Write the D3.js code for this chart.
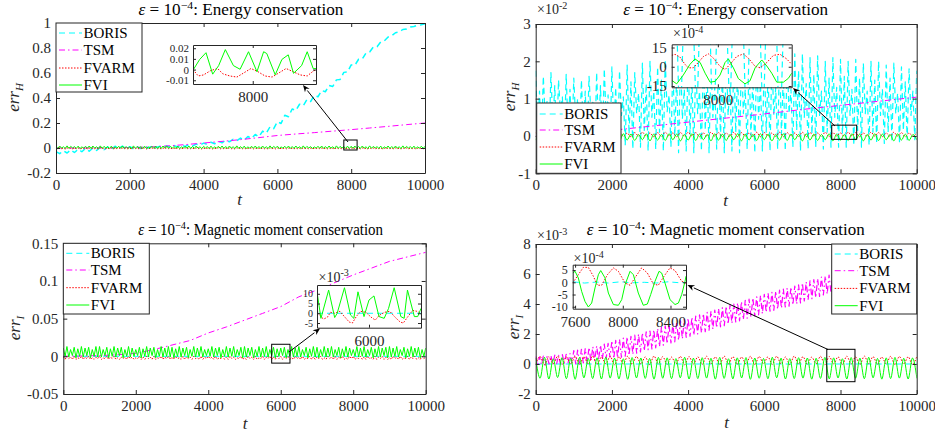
<!DOCTYPE html>
<html><head><meta charset="utf-8">
<script src="https://cdn.jsdelivr.net/npm/d3@7"></script>
<style>
html,body{margin:0;padding:0;background:#fff;}
svg{display:block;}
</style></head><body>
<svg id="chart" width="935" height="433"></svg>
<script>
// ================= DATA =================
const seriesNames = ["BORIS", "TSM", "FVARM", "FVI"];
const xTicks = [0, 2000, 4000, 6000, 8000, 10000];
const step100 = 100;            // sample spacing (t) of 101-value series
const step50 = 50;              // sample spacing (t) of 201-value series
const p4Step = 115;             // sample spacing of panel-4 FVI / FVARM

// ---- Panel 1: energy (left), raw units ----
const p1YTicks = [-0.2, 0, 0.2, 0.4, 0.6, 0.8, 1];
const p1Boris = [
 -0.030,-0.045,-0.022,-0.040,-0.015,-0.036,-0.010,-0.030,-0.004,-0.026,
  0.000,-0.020, 0.006,-0.014, 0.009,-0.010, 0.014,-0.004, 0.016,-0.008,
  0.010,-0.006, 0.008,-0.004, 0.013, 0.000, 0.015, 0.002, 0.013, 0.004,
  0.016, 0.006, 0.019, 0.008, 0.023, 0.012, 0.027, 0.016, 0.031, 0.022,
  0.039, 0.028, 0.046, 0.034, 0.053, 0.042, 0.061, 0.050, 0.069, 0.058,
  0.079, 0.062, 0.092, 0.076, 0.108, 0.090, 0.135, 0.118, 0.170, 0.155,
  0.210, 0.196, 0.262, 0.250, 0.312, 0.300, 0.350, 0.338, 0.388, 0.372,
  0.420, 0.410, 0.460, 0.450, 0.500, 0.492, 0.545, 0.548, 0.605, 0.608,
  0.665, 0.662, 0.710, 0.712, 0.760, 0.768, 0.808, 0.810, 0.848, 0.858,
  0.888, 0.898, 0.922, 0.928, 0.948, 0.952, 0.968, 0.972, 0.982, 0.986,
  0.995];
const p1TsmT = [0,500,1000,1500,2000,2500,3000,3500,4000,4500,5000,5500,6000,6500,7000,7500,8000,8500,9000,9500,10000];
const p1Tsm = [0,0,0.001,0.002,0.004,0.008,0.016,0.027,0.040,0.053,0.067,0.083,0.100,0.112,0.123,0.135,0.147,0.160,0.173,0.187,0.200];
const p1Fvarm = [
 -0.001,-0.007,0.001,-0.006,-0.002,-0.008,0.002,-0.005,0.000,-0.007,-0.001,-0.006,0.001,-0.008,-0.002,-0.005,0.002,-0.007,0.000,-0.006,
 0.001,-0.006,-0.002,-0.008,0.002,-0.005,0.000,-0.007,-0.001,-0.006,0.001,-0.008,-0.002,-0.005,0.002,-0.007,0.000,-0.006,-0.001,-0.007,
 -0.002,-0.008,0.002,-0.005,0.000,-0.007,-0.001,-0.006,0.001,-0.008,-0.002,-0.005,0.002,-0.007,0.000,-0.006,-0.001,-0.007,0.001,-0.006,
 0.002,-0.005,0.000,-0.007,-0.001,-0.006,0.001,-0.008,-0.002,-0.005,0.002,-0.007,0.000,-0.006,-0.001,-0.007,0.001,-0.006,-0.002,-0.008,
 0.000,-0.007,-0.001,-0.006,0.001,-0.008,-0.002,-0.005,0.002,-0.007,0.000,-0.006,-0.001,-0.007,0.001,-0.006,-0.002,-0.008,0.002,-0.005,
 -0.001,-0.006,0.001,-0.008,-0.002,-0.005,0.002,-0.007,0.000,-0.006,-0.001,-0.007,0.001,-0.006,-0.002,-0.008,0.002,-0.005,0.000,-0.007,
 0.001,-0.008,-0.002,-0.005,0.002,-0.007,0.000,-0.006,-0.001,-0.007,0.001,-0.006,-0.002,-0.008,0.002,-0.005,0.000,-0.007,-0.001,-0.006,
 -0.002,-0.005,0.002,-0.007,0.000,-0.006,-0.001,-0.007,0.001,-0.006,-0.002,-0.008,0.002,-0.005,0.000,-0.007,-0.001,-0.006,0.001,-0.008,
 0.002,-0.007,0.000,-0.006,-0.001,-0.007,0.001,-0.006,-0.002,-0.008,0.002,-0.005,0.000,-0.007,-0.001,-0.006,0.001,-0.008,-0.002,-0.005,
 0.000,-0.006,-0.001,-0.007,0.001,-0.006,-0.002,-0.008,0.002,-0.005,0.000,-0.007,-0.001,-0.006,0.001,-0.008,-0.002,-0.005,0.002,-0.007,
 -0.001];
const p1Fvi = [
 0.012,-0.003,0.016,-0.001,0.010,-0.004,0.017,-0.002,0.013,0.000,0.011,-0.003,0.015,-0.004,0.009,-0.001,0.014,-0.002,0.016,-0.003,
 0.016,-0.001,0.010,-0.004,0.017,-0.002,0.013,0.000,0.011,-0.003,0.015,-0.004,0.009,-0.001,0.014,-0.002,0.016,-0.003,0.012,-0.003,
 0.010,-0.004,0.017,-0.002,0.013,0.000,0.011,-0.003,0.015,-0.004,0.009,-0.001,0.014,-0.002,0.016,-0.003,0.012,-0.003,0.016,-0.001,
 0.017,-0.002,0.013,0.000,0.011,-0.003,0.015,-0.004,0.009,-0.001,0.014,-0.002,0.016,-0.003,0.012,-0.003,0.016,-0.001,0.010,-0.004,
 0.013,0.000,0.011,-0.003,0.015,-0.004,0.009,-0.001,0.014,-0.002,0.016,-0.003,0.012,-0.003,0.016,-0.001,0.010,-0.004,0.017,-0.002,
 0.011,-0.003,0.015,-0.004,0.009,-0.001,0.014,-0.002,0.016,-0.003,0.012,-0.003,0.016,-0.001,0.010,-0.004,0.017,-0.002,0.013,0.000,
 0.015,-0.004,0.009,-0.001,0.014,-0.002,0.016,-0.003,0.012,-0.003,0.016,-0.001,0.010,-0.004,0.017,-0.002,0.013,0.000,0.011,-0.003,
 0.009,-0.001,0.014,-0.002,0.016,-0.003,0.012,-0.003,0.016,-0.001,0.010,-0.004,0.017,-0.002,0.013,0.000,0.011,-0.003,0.015,-0.004,
 0.014,-0.002,0.016,-0.003,0.012,-0.003,0.016,-0.001,0.010,-0.004,0.017,-0.002,0.013,0.000,0.011,-0.003,0.015,-0.004,0.009,-0.001,
 0.016,-0.003,0.012,-0.003,0.016,-0.001,0.010,-0.004,0.017,-0.002,0.013,0.000,0.011,-0.003,0.015,-0.004,0.009,-0.001,0.014,-0.002,
 0.012];
// inset 1 (t in [7830,8180])
const i1XTicks = [8000];
const i1YTicks = [-0.01, 0, 0.01, 0.02];
const i1FviT = [7830,7849,7867,7886,7903,7922,7945,7964,7988,8012,8031,8040,8064,8083,8101,8116,8139,8155,8172,8180];
const i1Fvi  = [-0.0006,0.0095,0.0158,-0.0043,0.0037,0.0187,0.0037,0.0003,0.0167,-0.0020,0.0167,0.0150,-0.0049,0.0095,0.0138,-0.0035,0.0037,0.0167,0.0009,0.0009];
const i1FvarmT = [7830,7845,7860,7880,7900,7915,7935,7955,7975,7995,8015,8035,8055,8075,8095,8115,8135,8155,8170,8180];
const i1Fvarm  = [0.000,-0.006,-0.005,-0.001,0.001,-0.004,-0.006,-0.007,-0.003,0.001,-0.002,-0.006,-0.007,-0.003,0.001,-0.002,-0.005,-0.006,-0.002,0.000];
const p1Zoom = {t: [7800, 8160], v: [-0.016, 0.064]};

// ---- Panel 2: energy (right), units of 1e-2 ----
const p2YTicks = [-1, 0, 1, 2, 3];
const p2Boris = [
 1.75,0.10,1.20,-0.15,1.60,0.50,0.95,-0.20,1.70,0.25,1.35,-0.10,1.50,0.60,1.05,-0.20,1.65,0.15,1.25,-0.05,
 1.55,0.40,1.00,-0.25,1.50,0.20,1.20,-0.15,1.60,0.55,0.90,-0.25,1.70,0.10,1.35,-0.20,1.80,0.45,1.10,-0.30,
 1.85,0.20,1.30,-0.35,1.75,0.55,1.05,-0.25,1.90,0.05,1.45,-0.35,1.70,0.60,1.15,-0.30,1.95,0.15,1.40,-0.40,
 2.00,0.50,1.20,-0.35,1.85,0.10,1.50,-0.40,2.05,0.65,1.10,-0.30,1.95,0.00,1.60,-0.45,2.10,0.45,1.25,-0.40,
 2.15,0.05,1.55,-0.45,1.95,0.60,1.20,-0.40,2.15,0.15,1.70,-0.45,2.00,0.50,1.30,-0.35,2.20,-0.05,1.65,-0.45,
 2.20,0.55,1.35,-0.40,2.10,0.10,1.75,-0.45,2.20,0.60,1.25,-0.35,2.05,0.00,1.60,-0.45,2.20,0.45,1.40,-0.40,
 2.20,0.10,1.70,-0.40,2.05,0.55,1.30,-0.35,2.20,0.05,1.65,-0.40,2.10,0.60,1.25,-0.30,2.20,0.15,1.75,-0.40,
 2.20,0.50,1.40,-0.35,2.10,0.05,1.65,-0.30,2.15,0.55,1.20,-0.35,2.00,0.10,1.55,-0.30,2.10,0.50,1.30,-0.30,
 2.05,0.05,1.60,-0.30,2.00,0.55,1.25,-0.25,2.05,0.15,1.55,-0.30,1.95,0.60,1.20,-0.25,2.00,0.10,1.50,-0.20,
 2.00,0.55,1.25,-0.20,1.90,0.10,1.55,-0.15,1.95,0.60,1.15,-0.20,1.85,0.15,1.45,-0.10,1.80,0.55,1.20,-0.10,
 1.75];
const p2TsmT = [0,1000,2000,3000,4000,5000,6000,7000,8000,9000,10000];
const p2Tsm = [0.00,0.07,0.15,0.26,0.37,0.48,0.59,0.71,0.82,0.93,1.04];
const p2Fvarm = [
 0.09,-0.01,0.10,0.00,0.08,-0.02,0.10,-0.01,0.09,0.00,
 0.10,-0.02,0.08,-0.01,0.09,0.00,0.10,-0.02,0.08,-0.01,
 0.09,0.00,0.10,-0.01,0.08,-0.02,0.09,0.00,0.10,-0.01,
 0.08,-0.02,0.09,-0.01,0.10,0.00,0.08,-0.02,0.09,-0.01,
 0.10,0.00,0.09,-0.02,0.08,-0.01,0.10,0.00,0.09,-0.02,
 0.08,-0.01,0.10,-0.02,0.09,0.00,0.08,-0.01,0.10,-0.02,
 0.09,0.00,0.08,-0.01,0.10,-0.02,0.09,0.00,0.08,-0.01,
 0.10,-0.02,0.09,0.00,0.08,-0.01,0.10,-0.02,0.09,0.00,
 0.08,-0.01,0.10,0.00,0.09,-0.02,0.08,-0.01,0.10,0.00,
 0.09,-0.02,0.08,-0.01,0.10,0.00,0.09,-0.02,0.08,-0.01,
 0.09];
const p2Fvi = [
 -0.11,0.05,-0.12,0.04,-0.10,0.06,-0.13,0.05,-0.11,0.04,
 -0.12,0.06,-0.10,0.05,-0.13,0.04,-0.11,0.06,-0.12,0.05,
 -0.10,0.04,-0.13,0.06,-0.11,0.05,-0.12,0.04,-0.10,0.06,
 -0.13,0.05,-0.11,0.04,-0.12,0.06,-0.10,0.05,-0.13,0.04,
 -0.11,0.06,-0.12,0.05,-0.10,0.04,-0.13,0.06,-0.11,0.05,
 -0.12,0.04,-0.10,0.06,-0.13,0.05,-0.11,0.04,-0.12,0.06,
 -0.10,0.05,-0.13,0.04,-0.11,0.06,-0.12,0.05,-0.10,0.04,
 -0.13,0.06,-0.11,0.05,-0.12,0.04,-0.10,0.06,-0.13,0.05,
 -0.11,0.04,-0.12,0.06,-0.10,0.05,-0.13,0.04,-0.11,0.06,
 -0.12,0.05,-0.10,0.04,-0.13,0.06,-0.11,0.05,-0.12,0.04,
 -0.10];
// inset 2 (units of 1e-4)
const i2XTicks = [8000];
const i2YTicks = [-15, 0, 15];
const i2BorisT = [7750,7795,7840,7885,7930,7975,8020,8065,8110,8155,8200,8245,8290,8335,8380,8425];
const i2Boris  = [180,-60,170,-50,190,-70,160,-40,180,-60,170,-50,190,-70,160,-40];
const i2FviT = [7750,7777,7813,7849,7876,7904,7931,7958,7985,8012,8039,8057,8084,8111,8147,8174,8202,8238,8265,8292,8319,8355,8382,8400];
const i2Fvi  = [-10.6,-13.3,-6.4,1.9,6.1,3.3,-5.0,-12.0,-11.4,-6.4,3.3,6.1,-0.8,-9.2,-13.3,-11.0,-0.8,5.3,0.6,-5.0,-12.0,-12.0,-9.0,-5.0];
const i2FvarmT = [7750,7768,7795,7822,7840,7867,7894,7922,7949,7976,8012,8039,8066,8102,8138,8165,8202,8229,8265,8301,8337,8373,8400];
const i2Fvarm  = [8.9,9.7,7.5,1.9,-0.8,-0.8,3.3,8.0,10.0,6.7,0.3,-2.2,1.9,8.0,10.0,6.7,0.3,-0.8,3.3,8.9,9.7,6.1,1.9];
const p2Zoom = {t: [7770, 8425], v: [-0.09, 0.29]};

// ---- Panel 3: magnetic moment (left), raw units ----
const p3YTicks = [-0.05, 0, 0.05, 0.1, 0.15];
const p3BorisT = [0,2000,4000,6000,8000,10000];
const p3Boris = [0,0,0,0,0,0];
const p3TsmT = [0,500,1000,1500,2000,2500,3000,3500,4000,4500,5000,5500,6000,6500,7000,7500,8000,8500,9000,9500,10000];
const p3Tsm = [0,0.0005,0.001,0.002,0.004,0.009,0.015,0.021,0.031,0.039,0.048,0.057,0.066,0.079,0.088,0.098,0.108,0.117,0.126,0.132,0.138];
const p3Fvarm = [
 -0.001,-0.004,0.000,-0.003,-0.001,-0.004,0.000,-0.004,-0.002,-0.003,0.000,-0.004,-0.001,-0.003,0.000,-0.004,-0.002,-0.004,-0.001,-0.003,
 0.000,-0.004,-0.002,-0.003,0.000,-0.004,-0.001,-0.003,0.000,-0.004,-0.002,-0.004,-0.001,-0.003,-0.001,-0.004,0.000,-0.003,-0.001,-0.004,
 -0.002,-0.003,0.000,-0.004,-0.001,-0.004,0.000,-0.003,-0.001,-0.004,0.000,-0.004,-0.002,-0.003,0.000,-0.004,-0.001,-0.003,0.000,-0.004,
 -0.001,-0.004,0.000,-0.003,-0.002,-0.004,0.000,-0.004,-0.001,-0.003,-0.001,-0.004,0.000,-0.003,-0.002,-0.004,0.000,-0.004,-0.001,-0.003,
 0.000,-0.003,-0.001,-0.004,0.000,-0.004,-0.002,-0.003,0.000,-0.004,-0.001,-0.004,0.000,-0.003,-0.001,-0.004,-0.002,-0.003,0.000,-0.004,
 -0.002,-0.004,0.000,-0.003,-0.001,-0.004,0.000,-0.004,-0.002,-0.003,0.000,-0.004,-0.001,-0.003,0.000,-0.004,-0.001,-0.004,0.000,-0.003,
 0.000,-0.004,-0.001,-0.003,0.000,-0.004,-0.002,-0.004,0.000,-0.003,-0.001,-0.004,0.000,-0.004,-0.002,-0.003,0.000,-0.004,-0.001,-0.004,
 -0.001,-0.003,0.000,-0.004,-0.002,-0.004,0.000,-0.003,-0.001,-0.004,0.000,-0.004,-0.001,-0.003,0.000,-0.004,-0.002,-0.004,0.000,-0.003,
 0.000,-0.004,-0.002,-0.003,0.000,-0.004,-0.001,-0.004,0.000,-0.003,-0.002,-0.004,0.000,-0.004,-0.001,-0.003,0.000,-0.004,-0.001,-0.004,
 -0.002,-0.004,0.000,-0.003,-0.001,-0.004,0.000,-0.004,-0.002,-0.003,0.000,-0.004,-0.001,-0.003,0.000,-0.004,-0.002,-0.004,0.000,-0.003,
 -0.001];
const p3Fvi = [
 0.011,0.000,0.013,-0.001,0.009,0.001,0.012,-0.002,0.010,0.000,0.013,-0.001,0.011,0.001,0.012,-0.002,0.009,0.000,0.013,-0.001,
 0.013,-0.001,0.009,0.001,0.012,-0.002,0.010,0.000,0.013,-0.001,0.011,0.001,0.012,-0.002,0.009,0.000,0.013,-0.001,0.011,0.000,
 0.009,0.001,0.012,-0.002,0.010,0.000,0.013,-0.001,0.011,0.001,0.012,-0.002,0.009,0.000,0.013,-0.001,0.011,0.000,0.013,-0.001,
 0.012,-0.002,0.010,0.000,0.013,-0.001,0.011,0.001,0.012,-0.002,0.009,0.000,0.013,-0.001,0.011,0.000,0.013,-0.001,0.009,0.001,
 0.010,0.000,0.013,-0.001,0.011,0.001,0.012,-0.002,0.009,0.000,0.013,-0.001,0.011,0.000,0.013,-0.001,0.009,0.001,0.012,-0.002,
 0.013,-0.001,0.011,0.001,0.012,-0.002,0.009,0.000,0.013,-0.001,0.011,0.000,0.013,-0.001,0.009,0.001,0.012,-0.002,0.010,0.000,
 0.011,0.001,0.012,-0.002,0.009,0.000,0.013,-0.001,0.011,0.000,0.013,-0.001,0.009,0.001,0.012,-0.002,0.010,0.000,0.013,-0.001,
 0.012,-0.002,0.009,0.000,0.013,-0.001,0.011,0.000,0.013,-0.001,0.009,0.001,0.012,-0.002,0.010,0.000,0.013,-0.001,0.011,0.001,
 0.009,0.000,0.013,-0.001,0.011,0.000,0.013,-0.001,0.009,0.001,0.012,-0.002,0.010,0.000,0.013,-0.001,0.011,0.001,0.012,-0.002,
 0.013,-0.001,0.011,0.000,0.013,-0.001,0.009,0.001,0.012,-0.002,0.010,0.000,0.013,-0.001,0.011,0.001,0.012,-0.002,0.009,0.000,
 0.011];
// inset 3 (units of 1e-3)
const i3XTicks = [6000];
const i3YTicks = [-5, 0, 5, 10];
const i3BorisT = [5750, 6250];
const i3Boris = [0, 0];
const i3FviT = [5750,5769,5806,5835,5847,5882,5911,5927,5947,5976,6000,6024,6048,6073,6094,6121,6153,6169,6185,6218,6234,6250];
const i3Fvi  = [11.0,-2.6,11.9,-2.2,0.0,13.1,-0.9,-2.6,11.0,-1.7,6.8,8.9,-1.7,-2.6,2.5,13.1,-1.7,-2.6,11.9,-1.7,-1.7,2.5];
const i3FvarmT = [5750,5766,5782,5800,5815,5835,5860,5880,5905,5920,5940,5960,5985,6010,6030,6050,6075,6100,6125,6150,6165,6185,6210,6230,6250];
const i3Fvarm  = [1.5,-1.5,-3.0,-2.0,0.5,0.0,1.0,-1.5,-4.5,-5.0,-1.5,1.0,0.5,-2.0,-3.5,-1.0,0.5,1.0,-2.0,-4.5,-5.0,-2.0,1.5,1.0,0.0];
const p3Zoom = {t: [5750, 6255], v: [-0.009, 0.016]};

// ---- Panel 4: magnetic moment (right), units of 1e-3 ----
const p4YTicks = [-2, 0, 2, 4, 6, 8];
const p4BorisT = [0,2000,4000,6000,8000,10000];
const p4Boris = [0,0,0,0,0,0];
const p4Tsm = [
 0.50,-0.05,0.48,-0.02,0.52,-0.08,0.50,0.00,0.55,-0.05,0.60,0.02,0.58,0.00,0.62,0.05,0.65,0.08,0.70,0.10,
 0.90,0.00,0.92,0.05,0.98,0.08,1.02,0.12,1.10,0.18,1.15,0.22,1.20,0.28,1.26,0.32,1.32,0.38,1.38,0.45,
 1.55,0.35,1.58,0.40,1.65,0.45,1.72,0.52,1.80,0.58,1.85,0.65,1.92,0.72,2.00,0.80,2.08,0.88,2.15,0.95,
 2.20,1.00,2.28,1.08,2.36,1.16,2.45,1.25,2.55,1.35,2.60,1.40,2.68,1.48,2.78,1.58,2.88,1.68,2.98,1.78,
 3.05,1.85,3.12,1.92,3.20,2.00,3.28,2.08,3.36,2.16,3.45,2.25,3.52,2.32,3.60,2.40,3.68,2.48,3.76,2.56,
 3.85,2.65,3.92,2.72,4.00,2.80,4.08,2.88,4.16,2.96,4.25,3.05,4.32,3.12,4.40,3.20,4.48,3.28,4.56,3.36,
 4.65,3.45,4.72,3.52,4.78,3.58,4.85,3.65,4.92,3.72,5.00,3.80,5.06,3.86,5.13,3.93,5.20,4.00,5.27,4.07,
 5.40,4.20,5.48,4.28,5.55,4.35,5.62,4.42,5.70,4.50,5.80,4.60,5.86,4.66,5.93,4.73,6.00,4.80,6.07,4.87,
 6.15,4.95,6.22,5.02,6.30,5.10,6.37,5.17,6.45,5.25,6.55,5.35,6.62,5.42,6.70,5.50,6.77,5.57,6.85,5.65,
 6.90,5.70,6.97,5.77,7.05,5.85,7.12,5.92,7.20,6.00,7.30,6.10,7.37,6.17,7.44,6.24,7.51,6.31,7.58,6.38,
 7.65];
const p4Fvarm = [
 0.00,0.50,-0.05,0.48,0.02,0.52,-0.03,0.47,0.01,0.50,
 -0.04,0.49,0.00,0.53,-0.02,0.46,0.02,0.51,-0.05,0.48,
 0.01,0.52,-0.03,0.50,0.00,0.47,-0.04,0.53,0.02,0.49,
 -0.02,0.46,0.01,0.51,-0.05,0.50,0.00,0.48,-0.03,0.52,
 0.02,0.47,-0.04,0.53,0.01,0.49,-0.02,0.46,0.00,0.51,
 -0.05,0.50,0.02,0.48,-0.03,0.52,0.01,0.47,-0.04,0.53,
 0.00,0.49,-0.02,0.46,0.02,0.51,-0.05,0.50,0.01,0.48,
 -0.03,0.52,0.00,0.47,-0.04,0.53,0.02,0.49,-0.02,0.46,
 0.01,0.51,-0.05,0.50,0.00,0.48,-0.03,0.52];
const p4Fvi = [
 0.40,-0.95,0.45,-1.00,0.35,-0.90,0.42,-0.98,0.38,-1.02,
 0.44,-0.92,0.36,-0.97,0.41,-1.00,0.45,-0.94,0.39,-0.99,
 0.35,-1.02,0.43,-0.93,0.40,-0.96,0.37,-1.01,0.44,-0.95,
 0.41,-0.98,0.36,-0.92,0.45,-1.00,0.39,-0.97,0.42,-0.94,
 0.38,-1.01,0.44,-0.96,0.35,-0.99,0.41,-0.93,0.43,-1.02,
 0.40,-0.95,0.37,-0.98,0.45,-0.92,0.39,-1.00,0.36,-0.97,
 0.42,-0.94,0.40,-1.01,0.38,-0.96,0.44,-0.99,0.41,-0.93,
 0.35,-1.00,0.43,-0.95,0.39,-0.98,0.45,-0.92,0.37,-1.01,
 0.41,-0.97,0.44,-0.94,0.38,-1.00,0.40,-0.96];
// inset 4 (units of 1e-4)
const i4XTicks = [7600, 8000, 8400];
const i4YTicks = [-10, -5, 0, 5];
const i4BorisT = [7580,7680,7780,7880,7980,8080,8180,8280,8380,8480,8530];
const i4Boris  = [0.2,-0.3,0.1,-0.3,0.2,-0.2,0.0,-0.3,0.2,-0.2,0.0];
const i4FviT = [7580,7600,7627,7655,7683,7711,7739,7767,7795,7815,7851,7879,7921,7963,7991,8019,8061,8089,8130,8172,8206,8234,8270,8304,8326,8354,8396,8438,8466,8494,8522,8530];
const i4Fvi  = [3.8,4.5,1.8,-3.7,-7.8,-10.1,-8.5,-2.3,3.1,4.8,1.8,-4.4,-9.1,-9.4,-7.1,-1.0,4.5,3.1,-4.4,-9.4,-8.9,-5.0,0.4,4.5,3.8,-0.3,-7.1,-9.1,-8.5,-5.0,0.4,2.5];
const i4FvarmT = [7580,7627,7669,7711,7753,7787,7823,7871,7921,7963,8019,8061,8111,8158,8206,8256,8298,8346,8396,8438,8494,8530];
const i4Fvarm  = [-0.3,3.1,6.1,6.1,2.5,-1.2,-1.2,3.1,5.9,4.5,-0.3,-1.2,2.5,5.9,3.8,-0.7,-1.2,2.5,5.9,4.8,0.4,-0.3];
const p4Zoom = {t: [7640, 8380], v: [-1.18, 0.98]};

// ================= RENDERING =================
const svg = d3.select("#chart");
const defs = svg.append("defs");
const INK = "#262626";
const FONT = '"Liberation Serif","Times New Roman",serif';
const lineStyle = {
  BORIS: {stroke: "#00ffff", dash: "6,4"},
  TSM:   {stroke: "#ff00ff", dash: "6,3,1.5,3"},
  FVARM: {stroke: "#ff0000", dash: "1.5,1.5"},
  FVI:   {stroke: "#00ff00", dash: null}
};
let clipCount = 0;
const zip = (t, v) => v.map((val, i) => [t[i], val]);
const onGrid = (step, v) => v.map((val, i) => [i * step, val]);
const fmt = d => String(d);

function drawAxes(g, x, y, box, o) {
  const [x0, y0, x1, y1] = box;
  const tl = o.tickLen;
  const b = g.append("g").attr("transform", `translate(0,${y1})`)
    .call(d3.axisBottom(x).tickValues(o.xTicks).tickFormat(fmt).tickSizeInner(-tl).tickSizeOuter(0));
  b.selectAll(".tick text").attr("dy", null).attr("y", o.xLabOff);
  const t = g.append("g").attr("transform", `translate(0,${y0})`)
    .call(d3.axisTop(x).tickValues(o.xTicks).tickFormat("").tickSizeInner(-tl).tickSizeOuter(0));
  const l = g.append("g").attr("transform", `translate(${x0},0)`)
    .call(d3.axisLeft(y).tickValues(o.yTicks).tickFormat(fmt).tickSizeInner(-tl).tickSizeOuter(0).tickPadding(o.yLabPad));
  const r = g.append("g").attr("transform", `translate(${x1},0)`)
    .call(d3.axisRight(y).tickValues(o.yTicks).tickFormat("").tickSizeInner(-tl).tickSizeOuter(0));
  [b, t, l, r].forEach(a => {
    a.attr("font-family", FONT).attr("font-size", o.fontSize);
    a.select(".domain").attr("stroke", INK);
    a.selectAll(".tick line").attr("stroke", INK);
    a.selectAll(".tick text").attr("fill", INK);
  });
  if (o.yFontSize) l.attr("font-size", o.yFontSize);
}

function drawPlot(cfg) {
  const [x0, y0, x1, y1] = cfg.box;
  const g = svg.append("g");
  const x = d3.scaleLinear().domain(cfg.xDomain).range([x0, x1]);
  const y = d3.scaleLinear().domain(cfg.yDomain).range([y1, y0]);
  g.append("rect").attr("x", x0).attr("y", y0).attr("width", x1 - x0).attr("height", y1 - y0).attr("fill", "#fff");
  const id = "clip" + (clipCount++);
  defs.append("clipPath").attr("id", id).append("rect")
    .attr("x", x0).attr("y", y0).attr("width", x1 - x0).attr("height", y1 - y0);
  const plot = g.append("g").attr("clip-path", `url(#${id})`);
  cfg.series.forEach(s => {
    const st = lineStyle[s.name];
    plot.append("path").datum(s.points)
      .attr("d", d3.line().x(d => x(d[0])).y(d => y(d[1])).curve(s.curve || d3.curveLinear))
      .attr("fill", "none").attr("stroke", st.stroke).attr("stroke-width", s.width || 1)
      .attr("stroke-linejoin", "round")
      .attr("stroke-dasharray", st.dash);
  });
  drawAxes(g, x, y, cfg.box, cfg);
  return {g, x, y};
}

function zoomRect(p, z) {
  p.g.append("rect")
    .attr("x", p.x(z.t[0])).attr("y", p.y(z.v[1]))
    .attr("width", p.x(z.t[1]) - p.x(z.t[0])).attr("height", p.y(z.v[0]) - p.y(z.v[1]))
    .attr("fill", "none").attr("stroke", "#000").attr("stroke-width", 1);
}

function arrow(a) {
  const [tx, ty, hx, hy] = a;
  const ang = Math.atan2(hy - ty, hx - tx);
  const L = 7, W = 3;
  const bx = hx - L * Math.cos(ang), by = hy - L * Math.sin(ang);
  svg.append("line").attr("x1", tx).attr("y1", ty).attr("x2", bx).attr("y2", by)
    .attr("stroke", "#000").attr("stroke-width", 1);
  const px = -Math.sin(ang) * W, py = Math.cos(ang) * W;
  svg.append("path")
    .attr("d", `M${hx},${hy}L${bx + px},${by + py}L${bx + 0.3*(hx-bx)},${by + 0.3*(hy-by)}L${bx - px},${by - py}Z`)
    .attr("fill", "#000");
}

function legend(L) {
  const g = svg.append("g");
  g.append("rect").attr("x", L.x).attr("y", L.y).attr("width", L.w).attr("height", L.h)
    .attr("fill", "#fff").attr("stroke", INK).attr("stroke-width", 1);
  seriesNames.forEach((n, i) => {
    const yy = L.y + L.rows[i];
    const st = lineStyle[n];
    g.append("line").attr("x1", L.x + 3).attr("x2", L.x + 26).attr("y1", yy).attr("y2", yy)
      .attr("stroke", st.stroke).attr("stroke-width", 1).attr("stroke-dasharray", st.dash);
    g.append("text").attr("x", L.x + 27.5).attr("y", yy + 5)
      .attr("font-family", FONT).attr("font-size", 15).attr("fill", "#000").text(n);
  });
}

function title(T, rest) {
  const t = svg.append("text").attr("font-family", FONT).attr("font-size", 16).attr("fill", "#000");
  t.append("tspan").attr("font-style", "italic").text("ε");
  t.append("tspan").text(" = 10");
  t.append("tspan").attr("dy", -6).attr("font-size", 11).text("−4");
  t.append("tspan").attr("dy", 6).text(": " + rest);
  const w = t.node().getBBox().width;
  t.attr("transform", `translate(${T.cx - T.w / 2},${T.y}) scale(${T.w / w},1)`);
}

function expLabel(E, exp) {
  const t = svg.append("text").attr("x", E.x).attr("y", E.y)
    .attr("font-family", FONT).attr("font-size", E.size).attr("fill", INK);
  t.append("tspan").text("×10");
  t.append("tspan").attr("dy", -E.size * 0.36).attr("font-size", E.size * 0.72).text(exp);
}

function yLabel(Y, sub) {
  const t = svg.append("text").attr("transform", `translate(${Y.x},${Y.y}) rotate(-90)`)
    .attr("text-anchor", "middle").attr("font-family", FONT).attr("font-size", 17).attr("fill", INK);
  t.append("tspan").attr("font-style", "italic").text("err");
  t.append("tspan").attr("font-style", "italic").attr("font-size", 11).attr("dy", 4).text(sub);
}

function xLabel(X) {
  svg.append("text").attr("x", X.x).attr("y", X.y).attr("text-anchor", "middle")
    .attr("font-family", FONT).attr("font-style", "italic").attr("font-size", 17).attr("fill", INK).text("t");
}

const mainOpts = {tickLen: 4, xLabOff: 17, yLabPad: 5, fontSize: 15};
const insetOpts = {tickLen: 3, xLabOff: 18, yLabPad: 5, fontSize: 15};

// ---------- Panel 1 ----------
const P1 = drawPlot(Object.assign({}, mainOpts, {
  box: [56, 23, 425, 173], xDomain: [0, 10000], yDomain: [-0.2, 1],
  xTicks: xTicks, yTicks: p1YTicks,
  series: [
    {name: "BORIS", points: onGrid(step100, p1Boris), width: 1.5},
    {name: "TSM", points: zip(p1TsmT, p1Tsm)},
    {name: "FVARM", points: onGrid(step50, p1Fvarm)},
    {name: "FVI", points: onGrid(step50, p1Fvi)}
  ]}));
zoomRect(P1, p1Zoom);
legend({x: 56, y: 23, w: 86, h: 69, rows: [10, 27, 45, 62]});
drawPlot(Object.assign({}, insetOpts, {
  box: [193, 45, 316, 84], xDomain: [7830, 8180], yDomain: [-0.0135, 0.023],
  xTicks: i1XTicks, yTicks: i1YTicks, yFontSize: 11, yLabPad: 4,
  series: [
    {name: "FVARM", points: zip(i1FvarmT, i1Fvarm)},
    {name: "FVI", points: zip(i1FviT, i1Fvi)}
  ]}));
arrow([348, 142, 303, 85]);
title({cx: 241, y: 15, w: 205}, "Energy conservation");
yLabel({x: 19, y: 97.5}, "H");
xLabel({x: 239.5, y: 205});

// ---------- Panel 2 ----------
const P2 = drawPlot(Object.assign({}, mainOpts, {
  box: [535.7, 24, 916.7, 173.3], xDomain: [0, 10000], yDomain: [-1, 3],
  xTicks: xTicks, yTicks: p2YTicks,
  series: [
    {name: "BORIS", points: onGrid(step50, p2Boris), width: 1.2},
    {name: "TSM", points: zip(p2TsmT, p2Tsm)},
    {name: "FVARM", points: onGrid(step100, p2Fvarm), curve: d3.curveMonotoneX},
    {name: "FVI", points: onGrid(step100, p2Fvi), curve: d3.curveMonotoneX}
  ]}));
zoomRect(P2, p2Zoom);
legend({x: 536.7, y: 103, w: 84.3, h: 70.3, rows: [11, 27, 44, 61]});
drawPlot(Object.assign({}, insetOpts, {
  box: [671.7, 44.3, 791.7, 87.3], xDomain: [7750, 8400], yDomain: [-16, 17.5],
  xTicks: i2XTicks, yTicks: i2YTicks,
  series: [
    {name: "BORIS", points: zip(i2BorisT, i2Boris), width: 1.2},
    {name: "FVARM", points: zip(i2FvarmT, i2Fvarm)},
    {name: "FVI", points: zip(i2FviT, i2Fvi)}
  ]}));
arrow([835, 126, 793, 88]);
expLabel({x: 537, y: 14, size: 14}, "-2");
expLabel({x: 673, y: 38, size: 14}, "-4");
title({cx: 725.8, y: 15, w: 205}, "Energy conservation");
yLabel({x: 515, y: 97}, "H");
xLabel({x: 725.5, y: 206});

// ---------- Panel 3 ----------
const P3 = drawPlot(Object.assign({}, mainOpts, {
  box: [63.3, 243.3, 425.7, 394], xDomain: [0, 10000], yDomain: [-0.05, 0.15],
  xTicks: xTicks, yTicks: p3YTicks,
  series: [
    {name: "BORIS", points: zip(p3BorisT, p3Boris)},
    {name: "TSM", points: zip(p3TsmT, p3Tsm)},
    {name: "FVARM", points: onGrid(step50, p3Fvarm)},
    {name: "FVI", points: onGrid(step50, p3Fvi)}
  ]}));
zoomRect(P3, p3Zoom);
legend({x: 63.3, y: 243.3, w: 86, h: 70.7, rows: [10, 26.7, 44.4, 61.7]});
drawPlot(Object.assign({}, insetOpts, {
  box: [317, 285, 421, 327.7], xDomain: [5750, 6250], yDomain: [-7.4, 14.5],
  xTicks: i3XTicks, yTicks: i3YTicks, yFontSize: 10, yLabPad: 4,
  series: [
    {name: "BORIS", points: zip(i3BorisT, i3Boris)},
    {name: "FVARM", points: zip(i3FvarmT, i3Fvarm)},
    {name: "FVI", points: zip(i3FviT, i3Fvi)}
  ]}));
arrow([289, 352, 320, 328.5]);
expLabel({x: 318.5, y: 281.5, size: 14}, "-3");
title({cx: 260.8, y: 235, w: 245}, "Magnetic moment conservation");
yLabel({x: 20, y: 328}, "I");
xLabel({x: 245, y: 428.5});

// ---------- Panel 4 ----------
const P4 = drawPlot(Object.assign({}, mainOpts, {
  box: [535.7, 244, 916.7, 394], xDomain: [0, 10000], yDomain: [-2, 8],
  xTicks: xTicks, yTicks: p4YTicks,
  series: [
    {name: "BORIS", points: zip(p4BorisT, p4Boris)},
    {name: "TSM", points: onGrid(step50, p4Tsm), width: 1.2},
    {name: "FVARM", points: onGrid(p4Step, p4Fvarm), curve: d3.curveMonotoneX},
    {name: "FVI", points: onGrid(p4Step, p4Fvi), curve: d3.curveMonotoneX}
  ]}));
zoomRect(P4, p4Zoom);
legend({x: 831.7, y: 244, w: 85, h: 70, rows: [10, 26.7, 44.4, 61.7]});
drawPlot(Object.assign({}, insetOpts, {
  box: [572.7, 264.7, 686, 308.7], xDomain: [7580, 8530], yDomain: [-10.8, 7.2],
  xTicks: i4XTicks, yTicks: i4YTicks, yFontSize: 12,
  series: [
    {name: "BORIS", points: zip(i4BorisT, i4Boris)},
    {name: "FVARM", points: zip(i4FvarmT, i4Fvarm)},
    {name: "FVI", points: zip(i4FviT, i4Fvi)}
  ]}));
arrow([828, 349.5, 687.5, 285]);
expLabel({x: 537, y: 240, size: 14}, "-3");
expLabel({x: 573.5, y: 263, size: 14}, "-4");
title({cx: 725.8, y: 235, w: 278}, "Magnetic moment conservation");
yLabel({x: 519, y: 327}, "I");
xLabel({x: 726.5, y: 428});
</script></body></html>
